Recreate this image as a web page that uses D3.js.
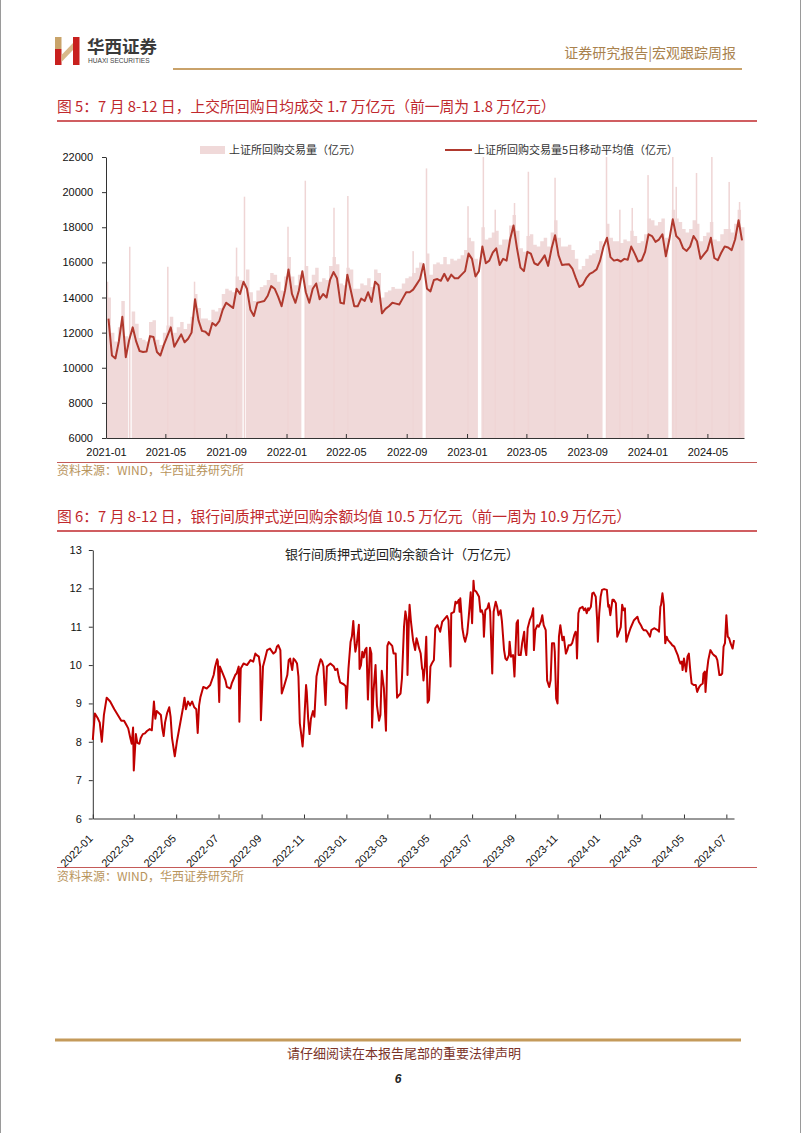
<!DOCTYPE html>
<html><head><meta charset="utf-8">
<script src="https://cdn.jsdelivr.net/npm/d3@7"></script>
<style>body{margin:0;background:#fff}svg{display:block}</style>
</head><body>
<svg id="c" width="802" height="1133"></svg>
<script>
// ---------- Figure 5 data (weekly, from 2021-01-04) ----------
const volWeekStart = "2021-01-04";
const volWeekEnd = "2024-07-09";
const maValues = [
12800,10700,10530,11500,12900,10600,11600,12300,11500,10950,
10900,10920,11800,11750,10900,10700,11300,11800,12300,11200,
11550,11900,11450,11650,12000,13900,12700,12100,12050,11850,
12550,12400,12650,13300,13700,13550,13400,14500,14200,14900,
14500,13300,12950,13700,13750,13800,14100,14650,14500,14050,
13500,14400,15600,14200,13700,14400,15500,14300,13700,14500,
14800,13900,14200,14000,15000,15450,15100,13700,13650,15300,
14400,13500,13500,13940,13800,14300,13750,14900,14700,13100,
13350,13500,13700,13650,13600,13950,14300,14300,14450,14750,
15050,15900,14500,14350,15000,15050,14950,15350,14950,15300,
15100,15100,15300,15500,16500,16200,15200,15500,16900,15950,
16100,16550,16800,15850,16200,16100,17300,18100,16800,15700,
15500,16600,16500,15950,15850,16100,16400,15800,16800,17550,
16400,15850,15880,15900,15650,15100,14600,14730,15100,15350,
15450,15600,16100,16900,17400,16300,16100,16150,16050,16200,
16150,16900,16500,16050,16120,16600,17600,17500,17170,17300,
17600,16350,17300,18450,17500,17300,16800,16650,16900,17500,
17200,16200,16450,16700,17400,16250,16120,16550,16900,16850,
16700,17300,18400,17250];
const volValues = [
14000,12000,11500,12300,13800,11800,null,13200,12500,11700,
11600,11500,12600,12700,11600,11300,12000,12400,12900,12000,
12300,12600,12200,12500,12900,14200,13400,12800,12800,12700,
13300,13200,13400,14200,14500,14400,14300,15200,15000,null,
15600,14300,13800,14400,14600,14700,15000,15400,15300,14900,
14400,15200,16300,15200,14700,15300,null,15800,14700,15300,
15700,14900,15100,15000,15800,16300,15900,14800,14700,15700,
15600,14500,14500,14800,14700,15100,14600,15600,15400,14000,
14300,14400,14600,14500,14500,14800,15100,15200,15400,15700,
16000,null,16500,15300,15900,16000,15900,16300,15900,16200,
16100,16200,16400,16700,17400,17200,16200,null,18000,17300,
17400,17700,17800,17000,17300,17300,18100,18700,17800,16800,
16600,17500,17600,17000,16900,17200,17400,16900,17700,18400,
17400,16900,16900,17000,16700,16200,15600,15800,16200,16400,
16500,16700,17200,null,18200,17400,17200,17200,17100,17300,
17200,17800,17500,17100,17200,17600,18500,18400,18100,18300,
18500,17400,null,19000,18500,18300,17900,17700,17900,18400,
18200,17200,17500,17700,18300,17300,17200,17600,17900,17900,
17700,18200,19000,18000];
const spikeDates = ["2021-01-04","2021-02-18","2021-05-06","2021-06-29","2021-09-22","2021-10-08",
"2022-01-04","2022-02-08","2022-04-07","2022-05-05","2022-09-14","2022-10-11",
"2023-01-03","2023-02-03","2023-02-27","2023-04-07","2023-05-05","2023-06-28",
"2023-10-10","2023-11-06","2023-12-01","2024-01-02","2024-02-21","2024-02-28",
"2024-04-09","2024-05-10","2024-06-14","2024-07-05"];
const spikeValues = [14900,16890,15750,14900,16840,19740,
18030,20650,19110,19780,16640,21350,
19200,22000,19000,19380,21160,20820,
22000,19000,19100,20970,22000,20300,
21090,22000,20580,19440];
const yTicks1 = [6000,8000,10000,12000,14000,16000,18000,20000,22000];
const xTicks1 = ["2021-01","2021-05","2021-09","2022-01","2022-05","2022-09","2023-01","2023-05","2023-09","2024-01","2024-05"];
const legend1 = ["上证所回购交易量（亿元）","上证所回购交易量5日移动平均值（亿元）"];

// ---------- Figure 6 data ----------
const balDates = [
"2022-01-01","2022-01-04","2022-01-08","2022-01-11","2022-01-14","2022-01-17","2022-01-21","2022-01-26","2022-02-01","2022-02-06",
"2022-02-11","2022-02-15","2022-02-18","2022-02-21","2022-02-24","2022-02-26","2022-02-28","2022-03-01","2022-03-04","2022-03-06",
"2022-03-09","2022-03-11","2022-03-14","2022-03-17","2022-03-20","2022-03-24","2022-03-27","2022-03-30","2022-04-01","2022-04-03",
"2022-04-06","2022-04-09","2022-04-11","2022-04-13","2022-04-15","2022-04-18","2022-04-21","2022-04-23","2022-04-25","2022-04-29",
"2022-05-02","2022-05-05","2022-05-08","2022-05-11","2022-05-13","2022-05-15","2022-05-18","2022-05-21","2022-05-24","2022-05-27",
"2022-05-30","2022-06-01","2022-06-03","2022-06-05","2022-06-09","2022-06-14","2022-06-19","2022-06-24","2022-06-26","2022-06-29",
"2022-06-30","2022-07-02","2022-07-03","2022-07-08","2022-07-11","2022-07-13","2022-07-18","2022-07-20","2022-07-23","2022-07-25",
"2022-07-27","2022-07-30","2022-07-31","2022-08-02","2022-08-06","2022-08-11","2022-08-16","2022-08-20","2022-08-23","2022-08-25",
"2022-08-28","2022-08-30","2022-08-31","2022-09-03","2022-09-06","2022-09-09","2022-09-13","2022-09-18","2022-09-21","2022-09-23",
"2022-09-25","2022-09-28","2022-09-30","2022-10-03","2022-10-08","2022-10-10","2022-10-12","2022-10-15","2022-10-17","2022-10-19",
"2022-10-22","2022-10-24","2022-10-26","2022-10-28","2022-10-30","2022-11-01","2022-11-04","2022-11-05","2022-11-07","2022-11-09",
"2022-11-11","2022-11-14","2022-11-16","2022-11-19","2022-11-22","2022-11-25","2022-11-27","2022-11-29","2022-12-02","2022-12-04",
"2022-12-09","2022-12-14","2022-12-16","2022-12-19","2022-12-21","2022-12-23","2022-12-28","2022-12-31","2023-01-01","2023-01-02",
"2023-01-04","2023-01-07","2023-01-09","2023-01-11","2023-01-13","2023-01-14","2023-01-16","2023-01-19","2023-01-20","2023-01-22",
"2023-01-24","2023-01-26","2023-01-28","2023-01-30","2023-02-01","2023-02-04","2023-02-06","2023-02-07","2023-02-09","2023-02-12",
"2023-02-14","2023-02-17","2023-02-19","2023-02-21","2023-02-24","2023-02-27","2023-03-01","2023-03-03","2023-03-08","2023-03-10",
"2023-03-13","2023-03-15","2023-03-17","2023-03-20","2023-03-22","2023-03-25","2023-03-27","2023-03-29","2023-03-30","2023-04-01",
"2023-04-02","2023-04-04","2023-04-07","2023-04-10","2023-04-12","2023-04-14","2023-04-15","2023-04-18","2023-04-20","2023-04-21",
"2023-04-22","2023-04-24","2023-04-26","2023-04-28","2023-04-30","2023-05-02","2023-05-04","2023-05-07","2023-05-09","2023-05-12",
"2023-05-14","2023-05-16","2023-05-19","2023-05-21","2023-05-26","2023-05-28","2023-05-31","2023-06-01","2023-06-05","2023-06-07",
"2023-06-09","2023-06-12","2023-06-13","2023-06-14","2023-06-17","2023-06-19","2023-06-21","2023-06-24","2023-06-26","2023-06-29",
"2023-07-01","2023-07-03","2023-07-04","2023-07-07","2023-07-11","2023-07-13","2023-07-15","2023-07-17","2023-07-18","2023-07-20",
"2023-07-23","2023-07-25","2023-07-27","2023-07-30","2023-08-01","2023-08-04","2023-08-06","2023-08-08","2023-08-11","2023-08-13",
"2023-08-16","2023-08-18","2023-08-20","2023-08-23","2023-08-24","2023-08-26","2023-08-29","2023-08-31","2023-09-03","2023-09-05",
"2023-09-06","2023-09-09","2023-09-11","2023-09-14","2023-09-15","2023-09-17","2023-09-19","2023-09-22","2023-09-25","2023-09-27",
"2023-09-28","2023-09-30","2023-10-03","2023-10-05","2023-10-08","2023-10-10","2023-10-12","2023-10-15","2023-10-17","2023-10-20",
"2023-10-22","2023-10-24","2023-10-27","2023-10-28","2023-10-30","2023-11-01","2023-11-03","2023-11-05","2023-11-08","2023-11-10",
"2023-11-13","2023-11-15","2023-11-17","2023-11-20","2023-11-22","2023-11-25","2023-11-27","2023-11-28","2023-11-29","2023-12-01",
"2023-12-03","2023-12-07","2023-12-09","2023-12-11","2023-12-13","2023-12-15","2023-12-16","2023-12-19","2023-12-21","2023-12-23",
"2023-12-26","2023-12-28","2023-12-29","2023-12-31","2024-01-02","2024-01-04","2024-01-07","2024-01-11","2024-01-13","2024-01-14",
"2024-01-16","2024-01-19","2024-01-21","2024-01-24","2024-01-26","2024-01-28","2024-01-31","2024-02-02","2024-02-04","2024-02-06",
"2024-02-07","2024-02-08","2024-02-10","2024-02-14","2024-02-19","2024-02-24","2024-02-26","2024-02-29","2024-03-02","2024-03-04",
"2024-03-07","2024-03-09","2024-03-12","2024-03-13","2024-03-15","2024-03-19","2024-03-24","2024-03-26","2024-03-28","2024-03-29",
"2024-03-31","2024-04-02","2024-04-04","2024-04-06","2024-04-08","2024-04-10","2024-04-12","2024-04-14","2024-04-17","2024-04-19",
"2024-04-22","2024-04-24","2024-04-26","2024-04-28","2024-04-29","2024-05-01","2024-05-04","2024-05-05","2024-05-06","2024-05-08",
"2024-05-10","2024-05-12","2024-05-15","2024-05-18","2024-05-20","2024-05-23","2024-05-25","2024-05-28","2024-05-29","2024-05-31",
"2024-06-01","2024-06-03","2024-06-05","2024-06-08","2024-06-11","2024-06-13","2024-06-16","2024-06-18","2024-06-21","2024-06-23",
"2024-06-25","2024-06-27","2024-06-29","2024-07-01","2024-07-03","2024-07-05","2024-07-07","2024-07-10","2024-07-12"];
const balValues = [
8.05,8.74,8.62,8.5,8.0,8.7,9.15,9.05,8.85,8.7,
8.55,8.55,8.45,8.35,8.1,7.95,8.37,7.25,8.2,7.97,
7.95,8.1,8.2,8.22,8.28,8.33,8.3,9.05,8.6,8.8,
8.75,8.7,8.35,8.15,8.5,8.75,8.9,8.65,8.1,7.62,
8.0,8.3,8.6,8.9,9.15,8.85,9.05,8.95,9.05,8.9,
8.85,8.23,8.95,9.17,9.43,9.39,9.48,9.74,9.95,10.15,
10.1,9.04,9.96,9.74,9.6,9.43,9.39,9.52,9.65,9.74,
9.78,9.96,8.52,9.91,10.04,10.0,10.13,10.09,10.3,10.26,
10.22,9.96,8.56,9.96,10.17,10.39,10.43,10.3,10.35,10.48,
10.52,10.39,9.26,9.43,9.74,10.13,10.17,9.87,10.17,10.13,
10.04,9.7,8.48,8.2,7.88,8.4,9.48,9.3,8.6,8.2,
8.6,8.8,8.65,9.7,9.96,10.15,10.1,9.96,8.96,9.96,
10.04,9.96,9.87,9.9,9.7,9.55,9.5,9.45,8.87,9.2,
9.9,10.6,10.75,11.15,10.55,10.35,10.55,11.05,9.9,10.0,
10.35,10.2,10.4,10.45,9.1,10.45,10.3,8.37,9.3,10.0,
8.95,8.55,8.7,9.85,9.4,8.29,10.5,10.6,10.5,10.3,
10.3,9.15,9.2,9.26,9.65,11.0,11.4,11.17,9.74,11.17,
11.57,11.13,10.65,10.39,10.7,10.57,10.48,10.3,9.91,9.87,
9.6,9.96,10.74,9.02,9.09,9.96,10.04,10.13,10.96,11.04,
10.96,10.87,11.13,11.17,11.28,11.17,9.96,11.35,11.39,11.65,
11.61,11.7,11.39,11.74,10.96,10.74,10.61,10.83,11.22,11.9,
11.09,12.2,11.96,11.91,11.78,11.39,11.43,11.3,10.74,11.43,
11.48,11.61,11.39,9.78,11.39,11.65,11.52,11.3,11.43,11.13,
10.39,10.17,10.13,10.26,10.61,10.22,10.26,9.7,11.09,11.17,
10.26,10.26,10.57,10.87,10.48,10.26,10.96,11.17,11.3,11.48,
10.39,10.91,11.04,11.0,11.13,11.3,11.04,10.91,9.6,9.43,
9.6,10.57,10.57,10.35,9.13,9.0,10.74,11.04,10.65,10.74,
10.3,10.39,10.52,10.52,10.57,10.78,10.87,10.78,10.17,11.35,
11.48,11.52,11.43,11.48,11.35,11.48,11.43,11.52,11.87,11.89,
11.78,11.17,10.61,11.35,11.78,11.96,11.98,11.96,11.52,11.57,
11.3,11.7,11.7,11.61,10.74,10.83,10.99,11.57,11.43,11.48,
10.99,10.61,10.74,10.96,11.17,11.26,11.13,11.04,10.96,10.91,
10.91,10.87,10.78,10.74,10.91,10.96,10.91,10.87,11.52,11.57,
11.87,11.57,10.57,10.74,10.65,10.61,10.57,10.52,10.48,10.39,
10.26,10.13,10.04,10.09,9.87,10.17,9.83,10.0,10.22,10.3,
9.87,9.52,9.48,9.48,9.3,9.43,9.48,9.52,9.78,9.83,
9.3,9.83,10.13,10.39,10.3,10.26,10.22,10.13,9.74,9.74,
9.78,10.48,10.57,11.3,10.74,10.7,10.57,10.43,10.65];
const yTicks2 = [6,7,8,9,10,11,12,13];
const xTicks2 = ["2022-01","2022-03","2022-05","2022-07","2022-09","2022-11","2023-01","2023-03","2023-05","2023-07","2023-09","2023-11","2024-01","2024-03","2024-05","2024-07"];

// ---------- drawing ----------
const svg = d3.select("#c");
const CJK = "'Noto Sans CJK SC','Noto Sans',sans-serif";
const NUM = "'Liberation Sans',Arial,sans-serif";
const pD = d3.timeParse("%Y-%m-%d"), pM = d3.timeParse("%Y-%m");
const RED = "#c0282d", GOLD = "#b8945c";

// page edges
svg.append("line").attr("x1",0.5).attr("x2",0.5).attr("y1",0).attr("y2",1133).attr("stroke","#9a9a9a");
svg.append("line").attr("x1",800.5).attr("x2",800.5).attr("y1",0).attr("y2",1133).attr("stroke","#9a9a9a");

// header logo
const lg = svg.append("g");
lg.append("rect").attr("x",55).attr("y",37).attr("width",6.5).attr("height",12).attr("fill","#c9a46a");
lg.append("rect").attr("x",55).attr("y",49).attr("width",6.5).attr("height",16).attr("fill","#c8201e");
lg.append("path").attr("d","M61.5,55 L73,43 L73,50 L61.5,62 Z").attr("fill","#d8b98a");
lg.append("rect").attr("x",73).attr("y",37).attr("width",6.5).attr("height",28).attr("fill","#c8201e");
svg.append("text").attr("x",87).attr("y",53).attr("font-family",CJK).attr("font-size",17.5).attr("font-weight",700).attr("fill","#3a3a3a").text("华西证券");
svg.append("text").attr("x",88).attr("y",63).attr("font-family",NUM).attr("font-size",6.6).attr("fill","#444").text("HUAXI SECURITIES");
svg.append("text").attr("x",736).attr("y",58).attr("text-anchor","end").attr("font-family",CJK).attr("font-size",14).attr("fill","#a9824e").text("证券研究报告|宏观跟踪周报");
svg.append("line").attr("x1",173).attr("x2",742).attr("y1",69).attr("y2",69).attr("stroke","#c9a26a").attr("stroke-width",2);

// titles
function title(y, txt){
  svg.append("text").attr("x",57).attr("y",y).attr("font-family",CJK).attr("font-size",14.8).attr("fill",RED).text(txt);
}
title(112,"图 5：7 月 8-12 日，上交所回购日均成交 1.7 万亿元（前一周为 1.8 万亿元）");
svg.append("line").attr("x1",57).attr("x2",757).attr("y1",121).attr("y2",121).attr("stroke",RED).attr("stroke-width",1.3);
title(522,"图 6：7 月 8-12 日，银行间质押式逆回购余额均值 10.5 万亿元（前一周为 10.9 万亿元）");
svg.append("line").attr("x1",57).attr("x2",757).attr("y1",531).attr("y2",531).attr("stroke",RED).attr("stroke-width",1.3);

// ---------- Chart 1 ----------
const x1 = d3.scaleTime().domain([new Date(2021,0,1), new Date(2024,6,14)]).range([106,744]);
const y1 = d3.scaleLinear().domain([6000,22000]).range([438,157]);
const weeks = d3.timeMonday.range(pD(volWeekStart), pD(volWeekEnd));
const g1 = svg.append("g");
// weekly volumes as a stepped area (each week spans start → next start), broken at holiday weeks
const stepPts = [];
weeks.forEach((d,i)=>{
  const v = volValues[i];
  if (v == null) { stepPts.push(null); return; }
  stepPts.push({d, v}); stepPts.push({d: d3.timeDay.offset(d,7), v});
});
g1.append("path").datum(stepPts).attr("fill","#f0d9d9")
  .attr("d", d3.area().defined(o=>o!=null).x(o=>x1(o.d)).y0(y1(6000)).y1(o=>y1(o.v)));
g1.selectAll("rect.sp").data(spikeDates.map((d,i)=>({d:pD(d), v:spikeValues[i]}))).join("rect").attr("class","sp")
  .attr("x",o=>x1(o.d)-0.75).attr("width",1.5)
  .attr("y",o=>y1(o.v)).attr("height",o=>y1(6000)-y1(o.v)).attr("fill","#efd5d5");
const maData = weeks.map((d,i)=>({d: d3.timeDay.offset(d,2), v: maValues[i]})).filter(o=>o.v!=null);
g1.append("path").datum(maData).attr("fill","none").attr("stroke","#b0392e").attr("stroke-width",2).attr("stroke-linejoin","round")
  .attr("d", d3.line().x(o=>x1(o.d)).y(o=>y1(o.v)));
const ya1 = g1.append("g").attr("transform","translate(106,0)")
  .call(d3.axisLeft(y1).tickValues(yTicks1).tickSize(4).tickSizeOuter(0).tickPadding(9).tickFormat(d3.format("d")));
const xa1 = g1.append("g").attr("transform","translate(0,438)")
  .call(d3.axisBottom(x1).tickValues(xTicks1.map(pM)).tickSize(-4).tickSizeOuter(0).tickPadding(10).tickFormat(d3.timeFormat("%Y-%m")));
[ya1,xa1].forEach(a=>{
  a.selectAll("path,line").attr("stroke","#333");
  a.selectAll("text").attr("font-family",NUM).attr("font-size",11).attr("fill","#111");
});
// legend
g1.append("rect").attr("x",200).attr("y",146).attr("width",25).attr("height",8).attr("fill","#f0d9d9");
g1.append("text").attr("x",229).attr("y",154).attr("font-family",CJK).attr("font-size",11).attr("fill","#333").text(legend1[0]);
g1.append("line").attr("x1",445).attr("x2",472).attr("y1",150).attr("y2",150).attr("stroke","#b0392e").attr("stroke-width",2);
g1.append("text").attr("x",474).attr("y",154).attr("font-family",CJK).attr("font-size",11).attr("fill","#333").text(legend1[1]);
// source
svg.append("line").attr("x1",57).attr("x2",757).attr("y1",462.5).attr("y2",462.5).attr("stroke","#c45a58").attr("stroke-width",1.2);
svg.append("text").attr("x",57).attr("y",475).attr("font-family",CJK).attr("font-size",12).attr("fill",GOLD).text("资料来源：WIND，华西证券研究所");

// ---------- Chart 2 ----------
const x2 = d3.scaleTime().domain([new Date(2022,0,1), new Date(2024,6,12)]).range([92.8,734]);
const y2 = d3.scaleLinear().domain([6,13]).range([818.5,550]);
const g2 = svg.append("g");
g2.append("text").attr("x",402).attr("y",559).attr("text-anchor","middle").attr("font-family",CJK).attr("font-size",13).attr("fill","#222").text("银行间质押式逆回购余额合计（万亿元）");
const ya2 = g2.append("g").attr("transform","translate(92.8,0)")
  .call(d3.axisLeft(y2).tickValues(yTicks2).tickSize(4).tickSizeOuter(0).tickPadding(7).tickFormat(d3.format("d")));
const xa2 = g2.append("g").attr("transform","translate(0,818.5)")
  .call(d3.axisBottom(x2).tickValues(xTicks2.map(pM)).tickSize(-4).tickSizeOuter(0).tickFormat(""));
[ya2,xa2].forEach(a=>{
  a.selectAll("path,line").attr("stroke","#333");
  a.selectAll("text").attr("font-family",NUM).attr("font-size",11).attr("fill","#111");
});
g2.selectAll("text.xl").data(xTicks2).join("text").attr("class","xl")
  .attr("transform",d=>`translate(${x2(pM(d))-2},${y2(6)+18}) rotate(-45)`)
  .attr("text-anchor","end").attr("dy","0.35em")
  .attr("font-family",NUM).attr("font-size",11).attr("fill","#111").text(d=>d);
const balData = balDates.map((d,i)=>({d:pD(d), v:balValues[i]}));
g2.append("path").datum(balData).attr("fill","none").attr("stroke","#c00000").attr("stroke-width",2).attr("stroke-linejoin","round")
  .attr("d", d3.line().x(o=>x2(o.d)).y(o=>y2(o.v)));
svg.append("line").attr("x1",57).attr("x2",757).attr("y1",867.5).attr("y2",867.5).attr("stroke","#c45a58").attr("stroke-width",1.2);
svg.append("text").attr("x",57).attr("y",881).attr("font-family",CJK).attr("font-size",12).attr("fill",GOLD).text("资料来源：WIND，华西证券研究所");

// ---------- footer ----------
svg.append("line").attr("x1",55).attr("x2",741).attr("y1",1040).attr("y2",1040).attr("stroke","#c49a5a").attr("stroke-width",3);
svg.append("text").attr("x",404).attr("y",1058).attr("text-anchor","middle").attr("font-family",CJK).attr("font-size",13).attr("fill","#7b3328").text("请仔细阅读在本报告尾部的重要法律声明");
svg.append("text").attr("x",398).attr("y",1083).attr("text-anchor","middle").attr("font-family",NUM).attr("font-size",12).attr("font-weight",700).attr("font-style","italic").attr("fill","#222").text("6");
</script>
</body></html>
